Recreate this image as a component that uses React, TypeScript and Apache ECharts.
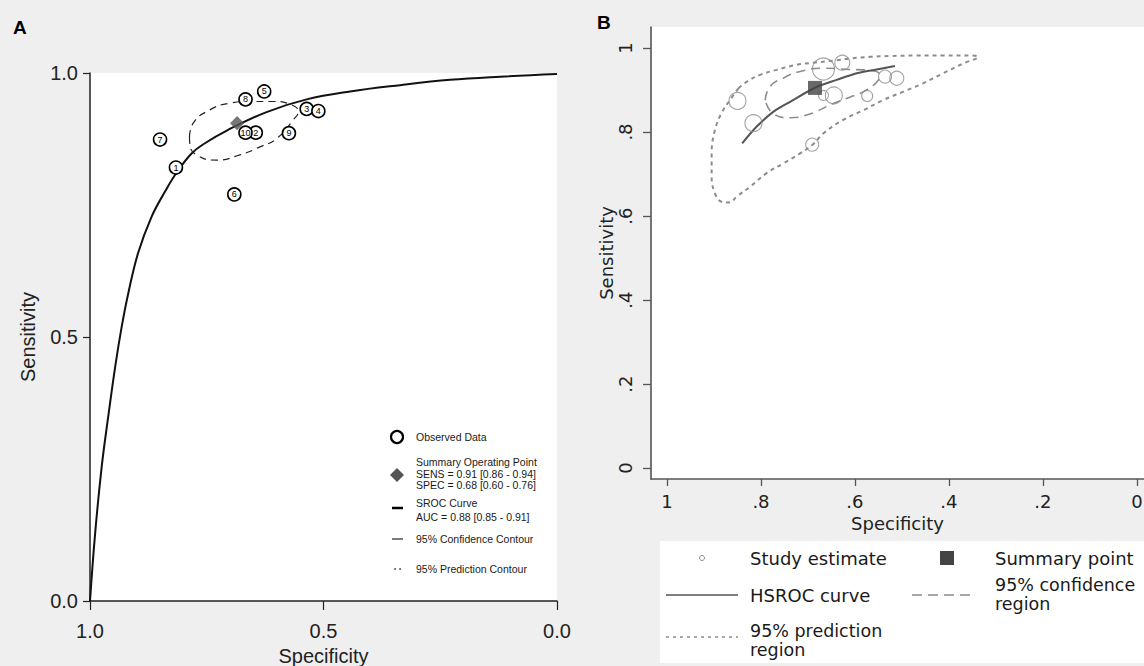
import React, { useEffect, useRef } from "react";
import * as echarts from "echarts";

// ---- Data ----
const studyIds = [1, 2, 3, 4, 5, 6, 7, 8, 9, 10];
const studySpec = [0.816, 0.645, 0.536, 0.511, 0.627, 0.691, 0.85, 0.667, 0.574, 0.667];
const studySens = [0.821, 0.887, 0.932, 0.928, 0.965, 0.77, 0.874, 0.95, 0.886, 0.887];
const studyWeightB = [17, 17, 13, 14, 15, 13, 17, 22, 11, 10];
const summarySpec = 0.685;
const summarySens = 0.905;

const srocSpec = [1.0, 0.989, 0.975, 0.961, 0.946, 0.932, 0.918, 0.897, 0.868, 0.839, 0.814, 0.782, 0.754, 0.707, 0.622, 0.536, 0.443, 0.336, 0.229, 0.122, 0.0];
const srocSens = [0.0, 0.128, 0.254, 0.349, 0.444, 0.52, 0.583, 0.659, 0.728, 0.776, 0.812, 0.848, 0.867, 0.891, 0.926, 0.95, 0.965, 0.977, 0.987, 0.993, 0.998];

const confASpec = [0.787, 0.779, 0.75, 0.7, 0.657, 0.607, 0.572, 0.554, 0.565, 0.6, 0.636, 0.679, 0.729, 0.772, 0.786, 0.787];
const confASens = [0.879, 0.905, 0.927, 0.943, 0.946, 0.946, 0.941, 0.927, 0.911, 0.876, 0.86, 0.845, 0.835, 0.845, 0.864, 0.879];

const hsrocSpec = [0.84, 0.809, 0.774, 0.738, 0.684, 0.639, 0.596, 0.554, 0.515];
const hsrocSens = [0.773, 0.813, 0.848, 0.872, 0.906, 0.924, 0.94, 0.949, 0.957];

const confBSpec = [0.791, 0.781, 0.753, 0.717, 0.667, 0.611, 0.582, 0.547, 0.55, 0.579, 0.611, 0.646, 0.696, 0.738, 0.774, 0.791];
const confBSens = [0.876, 0.908, 0.928, 0.944, 0.952, 0.949, 0.948, 0.936, 0.924, 0.898, 0.883, 0.868, 0.843, 0.834, 0.844, 0.876];

const predBSpec = [0.848, 0.83, 0.802, 0.767, 0.724, 0.689, 0.646, 0.611, 0.568, 0.526, 0.469, 0.412, 0.355, 0.338, 0.37, 0.412, 0.455, 0.497, 0.54, 0.582, 0.625, 0.667, 0.689, 0.717, 0.753, 0.788, 0.823, 0.852, 0.866, 0.884, 0.898, 0.905, 0.905, 0.898, 0.884, 0.866, 0.848];
const predBSens = [0.904, 0.92, 0.936, 0.948, 0.96, 0.965, 0.97, 0.975, 0.979, 0.981, 0.982, 0.982, 0.982, 0.979, 0.963, 0.94, 0.916, 0.896, 0.876, 0.852, 0.829, 0.797, 0.771, 0.749, 0.725, 0.702, 0.67, 0.646, 0.632, 0.634, 0.654, 0.694, 0.749, 0.805, 0.845, 0.876, 0.904];

const ticksB = [0, 0.2, 0.4, 0.6, 0.8, 1];

const pairs = (xs: number[], ys: number[]) => xs.map((x, i) => [x, ys[i]]);

const FA = '"Liberation Sans", Arial, sans-serif';
const FB = '"DejaVu Sans", sans-serif';

const fmtB = (v: number) => (v === 0 ? "0" : v === 1 ? "1" : "." + Math.round(v * 10));

function txt(text: string, x: number, y: number, size: number, family: string, extra: any = {}) {
  return {
    type: "text",
    silent: true,
    style: { text, x, y, fill: "#1a1a1a", fontSize: size, fontFamily: family, verticalAlign: "middle", align: "left", ...extra },
  };
}
function ln(x1: number, y1: number, x2: number, y2: number, stroke: string, lineWidth: number, lineDash?: number[]) {
  return { type: "line", silent: true, shape: { x1, y1, x2, y2 }, style: { stroke, lineWidth, lineDash } };
}

export default function App() {
  const ref = useRef<HTMLDivElement>(null);
  useEffect(() => {
    const chart = echarts.init(ref.current!, null, { renderer: "svg" });
    const axisLineA = { show: true, onZero: false, lineStyle: { color: "#222", width: 1.5 } };
    const axisLineB = { show: true, onZero: false, lineStyle: { color: "#555", width: 1.6 } };
    const option: any = {
      animation: false,
      backgroundColor: "#efefef",
      grid: [
        { left: 90, top: 73, width: 467, height: 528, show: true, backgroundColor: "#ffffff", borderWidth: 0, containLabel: false, outerBoundsMode: "none" },
        { left: 651, top: 27, width: 493, height: 452, show: true, backgroundColor: "#ffffff", borderWidth: 0, containLabel: false, outerBoundsMode: "none" },
      ],
      xAxis: [
        {
          type: "value", gridIndex: 0, min: 0, max: 1, interval: 0.5, inverse: true,
          axisLine: axisLineA,
          axisTick: { show: true, length: 9, lineStyle: { color: "#222", width: 1.2 } },
          axisLabel: { formatter: (v: number) => v.toFixed(1), fontSize: 20, fontFamily: FA, color: "#222", margin: 20 },
          splitLine: { show: false },
          name: "Specificity", nameLocation: "middle", nameGap: 43,
          nameTextStyle: { fontSize: 20, fontFamily: FA, color: "#222" },
        },
        {
          type: "value", gridIndex: 1, min: -0.015, max: 1.034, inverse: true,
          axisLine: axisLineB,
          axisTick: { show: true, length: 7, customValues: ticksB, lineStyle: { color: "#555", width: 1.3 } },
          axisLabel: { customValues: ticksB, formatter: fmtB, fontSize: 18, fontFamily: FB, color: "#222", margin: 13 },
          splitLine: { show: false },
          name: "Specificity", nameLocation: "middle", nameGap: 29,
          nameTextStyle: { fontSize: 18, fontFamily: FB, color: "#222" },
        },
      ],
      yAxis: [
        {
          type: "value", gridIndex: 0, min: 0, max: 1, interval: 0.5,
          axisLine: axisLineA,
          axisTick: { show: true, length: 7, lineStyle: { color: "#222", width: 1.2 } },
          axisLabel: { formatter: (v: number) => v.toFixed(1), fontSize: 20, fontFamily: FA, color: "#222", margin: 12 },
          splitLine: { show: false },
          name: "Sensitivity", nameLocation: "middle", nameGap: 52,
          nameTextStyle: { fontSize: 20, fontFamily: FA, color: "#222" },
        },
        {
          type: "value", gridIndex: 1, min: -0.026, max: 1.05,
          axisLine: axisLineB,
          axisTick: { show: true, length: 8, customValues: ticksB, lineStyle: { color: "#555", width: 1.3 } },
          axisLabel: { customValues: ticksB, formatter: fmtB, rotate: 90, fontSize: 18, fontFamily: FB, color: "#222", margin: 17 },
          splitLine: { show: false },
          name: "Sensitivity", nameLocation: "middle", nameGap: 34,
          nameTextStyle: { fontSize: 18, fontFamily: FB, color: "#222" },
        },
      ],
      series: [
        {
          type: "line", xAxisIndex: 0, yAxisIndex: 0, data: pairs(srocSpec, srocSens), symbol: "none", smooth: 0.4,
          lineStyle: { color: "#111", width: 2 }, z: 2,
        },
        {
          type: "line", xAxisIndex: 0, yAxisIndex: 0, data: pairs(confASpec, confASens), symbol: "none", smooth: 0.5,
          lineStyle: { color: "#222", width: 1.2, type: [7, 5] }, z: 2,
        },
        {
          type: "scatter", xAxisIndex: 0, yAxisIndex: 0, data: [[summarySpec, summarySens]],
          symbol: "rect", symbolRotate: 45, symbolSize: 10, itemStyle: { color: "#555" }, z: 3,
        },
        {
          type: "scatter", xAxisIndex: 0, yAxisIndex: 0,
          data: studyIds.map((id, i) => ({ value: [studySpec[i], studySens[i]], name: String(id) })),
          symbol: "circle", symbolSize: 13,
          itemStyle: { color: "#fff", borderColor: "#000", borderWidth: 1.6, opacity: 1 },
          label: { show: true, position: "inside", formatter: (p: any) => p.name, fontSize: 9, fontFamily: FA, color: "#000" },
          z: 4,
        },
        {
          type: "line", xAxisIndex: 1, yAxisIndex: 1, data: pairs(predBSpec, predBSens), symbol: "none", smooth: 0.4,
          lineStyle: { color: "#8c8c8c", width: 2, type: [4, 4] }, z: 2,
        },
        {
          type: "line", xAxisIndex: 1, yAxisIndex: 1, data: pairs(confBSpec, confBSens), symbol: "none", smooth: 0.5,
          lineStyle: { color: "#8c8c8c", width: 1.6, type: [9, 6] }, z: 2,
        },
        {
          type: "line", xAxisIndex: 1, yAxisIndex: 1, data: pairs(hsrocSpec, hsrocSens), symbol: "none", smooth: 0.3,
          lineStyle: { color: "#555", width: 2 }, z: 3,
        },
        {
          type: "scatter", xAxisIndex: 1, yAxisIndex: 1,
          data: studyIds.map((id, i) => ({ value: [studySpec[i], studySens[i]], name: String(id), symbolSize: studyWeightB[i] })),
          symbol: "circle",
          itemStyle: { color: "rgba(0,0,0,0)", borderColor: "#8c8c8c", borderWidth: 1.1 },
          z: 4,
        },
        {
          type: "scatter", xAxisIndex: 1, yAxisIndex: 1, data: [[summarySpec, summarySens]],
          symbol: "rect", symbolSize: 14, itemStyle: { color: "#444" }, z: 5,
        },
      ],
      graphic: [
        txt("A", 13, 27, 19, FA, { fontWeight: "bold", fill: "#000" }),
        txt("B", 597, 22, 19, FA, { fontWeight: "bold", fill: "#000" }),
        // Legend A
        { type: "circle", silent: true, shape: { cx: 397, cy: 437, r: 6 }, style: { fill: "#fff", stroke: "#000", lineWidth: 2.2 } },
        txt("Observed Data", 416, 437, 10.5, FA),
        { type: "polygon", silent: true, shape: { points: [[397, 468], [404, 475], [397, 482], [390, 475]] }, style: { fill: "#555" } },
        txt("Summary Operating Point\nSENS = 0.91 [0.86 - 0.94]\nSPEC = 0.68 [0.60 - 0.76]", 416, 473.5, 10.5, FA, { lineHeight: 11.5 }),
        ln(392, 508, 403, 508, "#000", 2.5),
        txt("SROC Curve\nAUC = 0.88 [0.85 - 0.91]", 416, 510, 10.5, FA, { lineHeight: 13.5 }),
        ln(392, 539, 403, 539, "#222", 1.2),
        txt("95% Confidence Contour", 416, 539, 10.5, FA),
        { type: "circle", silent: true, shape: { cx: 395, cy: 569, r: 0.8 }, style: { fill: "#333" } },
        { type: "circle", silent: true, shape: { cx: 400, cy: 569, r: 0.8 }, style: { fill: "#333" } },
        txt("95% Prediction Contour", 416, 569, 10.5, FA),
        // Legend B
        { type: "rect", silent: true, shape: { x: 660, y: 541, width: 490, height: 122 }, style: { fill: "#fff" } },
        { type: "circle", silent: true, shape: { cx: 702, cy: 558, r: 2.5 }, style: { fill: "#fff", stroke: "#8c8c8c", lineWidth: 1 } },
        txt("Study estimate", 750, 558, 18, FB),
        { type: "rect", silent: true, shape: { x: 940, y: 551, width: 14, height: 14 }, style: { fill: "#444" } },
        txt("Summary point", 995, 558, 18, FB),
        ln(666, 595, 738, 595, "#555", 1.6),
        txt("HSROC curve", 750, 595, 18, FB),
        ln(912, 595, 973, 595, "#8c8c8c", 1.6, [10, 6]),
        txt("95% confidence\nregion", 995, 594, 17.5, FB, { lineHeight: 19 }),
        ln(666, 637, 738, 637, "#8c8c8c", 1.4, [3, 4]),
        txt("95% prediction\nregion", 750, 640.5, 17.5, FB, { lineHeight: 18.5 }),
      ],
    };
    chart.setOption(option);
    return () => chart.dispose();
  }, []);
  return <div ref={ref} style={{ position: "fixed", left: 0, top: 0, width: 1144, height: 666 }} />;
}
